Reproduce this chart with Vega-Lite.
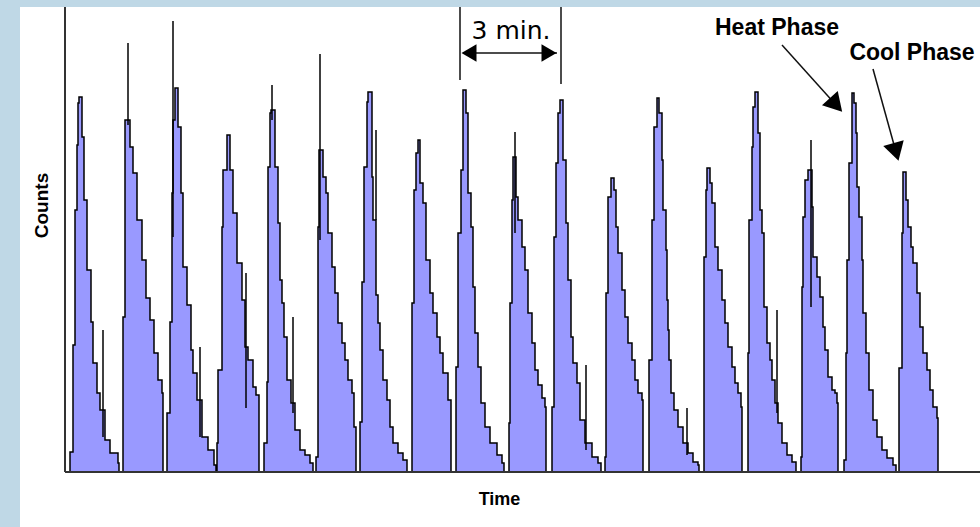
{
  "$schema": "https://vega.github.io/schema/vega-lite/v6.json",
  "width": 960,
  "height": 520,
  "autosize": {"type": "none"},
  "padding": {"left": 20, "top": 7, "right": 0, "bottom": 0},
  "background": "#bfd8e6",
  "config": {"view": {"stroke": null, "fill": "white"}},
  "datasets": {
    "profile": [
      {"t":0,"c":0},
      {"t":5,"c":20},{"t":8,"c":127},{"t":10,"c":262},{"t":12,"c":327},{"t":13,"c":369},{"t":14,"c":375},{"t":17,"c":335},{"t":19,"c":272},{"t":22,"c":202},{"t":26,"c":150},{"t":28,"c":109},{"t":32,"c":79},{"t":35,"c":62},{"t":40,"c":32},{"t":45,"c":19},{"t":53,"c":9},{"t":54,"c":0},
      {"t":58,"c":155},{"t":60,"c":352},{"t":65,"c":325},{"t":68,"c":299},{"t":72,"c":252},{"t":77,"c":212},{"t":81,"c":174},{"t":85,"c":152},{"t":89,"c":119},{"t":93,"c":92},{"t":97,"c":79},{"t":98,"c":0},
      {"t":102,"c":59},{"t":105,"c":150},{"t":107,"c":279},{"t":108,"c":352},{"t":110,"c":384},{"t":113,"c":345},{"t":116,"c":279},{"t":118,"c":205},{"t":122,"c":167},{"t":126,"c":122},{"t":128,"c":99},{"t":132,"c":72},{"t":137,"c":35},{"t":143,"c":22},{"t":149,"c":7},{"t":151,"c":0},
      {"t":152,"c":29},{"t":153,"c":102},{"t":157,"c":245},{"t":158,"c":302},{"t":162,"c":337},{"t":165,"c":302},{"t":168,"c":259},{"t":172,"c":209},{"t":177,"c":172},{"t":180,"c":125},{"t":183,"c":112},{"t":188,"c":85},{"t":191,"c":77},{"t":194,"c":0},
      {"t":199,"c":29},{"t":202,"c":90},{"t":203,"c":305},{"t":205,"c":359},{"t":206,"c":362},{"t":210,"c":305},{"t":213,"c":249},{"t":215,"c":192},{"t":217,"c":169},{"t":219,"c":135},{"t":222,"c":92},{"t":226,"c":69},{"t":230,"c":42},{"t":235,"c":22},{"t":240,"c":17},{"t":245,"c":9},{"t":248,"c":0},
      {"t":251,"c":15},{"t":253,"c":245},{"t":254,"c":322},{"t":258,"c":295},{"t":261,"c":279},{"t":263,"c":239},{"t":267,"c":205},{"t":270,"c":179},{"t":273,"c":149},{"t":277,"c":129},{"t":280,"c":112},{"t":283,"c":92},{"t":287,"c":79},{"t":289,"c":45},{"t":291,"c":0},
      {"t":295,"c":50},{"t":297,"c":190},{"t":299,"c":305},{"t":302,"c":370},{"t":303,"c":380},{"t":307,"c":295},{"t":308,"c":252},{"t":311,"c":177},{"t":313,"c":149},{"t":315,"c":122},{"t":318,"c":92},{"t":322,"c":72},{"t":325,"c":45},{"t":328,"c":29},{"t":333,"c":19},{"t":338,"c":12},{"t":342,"c":0},
      {"t":347,"c":169},{"t":349,"c":282},{"t":351,"c":319},{"t":353,"c":332},{"t":355,"c":289},{"t":358,"c":269},{"t":361,"c":212},{"t":365,"c":179},{"t":368,"c":159},{"t":372,"c":135},{"t":375,"c":119},{"t":378,"c":99},{"t":383,"c":72},{"t":386,"c":0},
      {"t":391,"c":105},{"t":393,"c":239},{"t":396,"c":302},{"t":398,"c":382},{"t":401,"c":359},{"t":403,"c":279},{"t":406,"c":245},{"t":408,"c":185},{"t":410,"c":139},{"t":413,"c":105},{"t":416,"c":69},{"t":420,"c":45},{"t":425,"c":29},{"t":432,"c":17},{"t":437,"c":9},{"t":439,"c":0},
      {"t":444,"c":49},{"t":445,"c":169},{"t":447,"c":272},{"t":448,"c":315},{"t":451,"c":275},{"t":453,"c":252},{"t":457,"c":225},{"t":460,"c":202},{"t":463,"c":159},{"t":467,"c":129},{"t":470,"c":102},{"t":473,"c":87},{"t":477,"c":74},{"t":480,"c":65},{"t":481,"c":0},
      {"t":487,"c":65},{"t":489,"c":235},{"t":491,"c":309},{"t":493,"c":359},{"t":495,"c":372},{"t":498,"c":312},{"t":501,"c":249},{"t":503,"c":192},{"t":506,"c":135},{"t":508,"c":109},{"t":512,"c":89},{"t":515,"c":52},{"t":520,"c":29},{"t":527,"c":15},{"t":533,"c":9},{"t":536,"c":0},
      {"t":540,"c":15},{"t":541,"c":179},{"t":543,"c":275},{"t":546,"c":294},{"t":549,"c":282},{"t":551,"c":245},{"t":553,"c":219},{"t":557,"c":182},{"t":560,"c":155},{"t":563,"c":129},{"t":567,"c":112},{"t":570,"c":92},{"t":573,"c":79},{"t":577,"c":72},{"t":578,"c":0},
      {"t":584,"c":112},{"t":587,"c":252},{"t":589,"c":345},{"t":592,"c":374},{"t":594,"c":359},{"t":597,"c":312},{"t":598,"c":262},{"t":601,"c":222},{"t":602,"c":172},{"t":603,"c":142},{"t":604,"c":112},{"t":606,"c":79},{"t":609,"c":62},{"t":613,"c":45},{"t":618,"c":29},{"t":623,"c":19},{"t":628,"c":10},{"t":633,"c":7},{"t":634,"c":0},
      {"t":639,"c":215},{"t":641,"c":282},{"t":642,"c":304},{"t":645,"c":289},{"t":647,"c":269},{"t":650,"c":225},{"t":653,"c":202},{"t":657,"c":172},{"t":660,"c":149},{"t":663,"c":125},{"t":667,"c":105},{"t":670,"c":89},{"t":673,"c":79},{"t":676,"c":65},{"t":677,"c":0},
      {"t":683,"c":119},{"t":684,"c":252},{"t":687,"c":325},{"t":688,"c":365},{"t":690,"c":380},{"t":693,"c":339},{"t":695,"c":262},{"t":697,"c":239},{"t":699,"c":165},{"t":702,"c":129},{"t":705,"c":112},{"t":707,"c":92},{"t":710,"c":69},{"t":713,"c":49},{"t":717,"c":29},{"t":722,"c":17},{"t":727,"c":10},{"t":731,"c":0},
      {"t":736,"c":15},{"t":737,"c":185},{"t":738,"c":255},{"t":740,"c":292},{"t":743,"c":302},{"t":747,"c":265},{"t":748,"c":215},{"t":752,"c":195},{"t":755,"c":175},{"t":758,"c":145},{"t":760,"c":122},{"t":763,"c":95},{"t":767,"c":82},{"t":770,"c":79},{"t":772,"c":69},{"t":773,"c":0},
      {"t":779,"c":12},{"t":781,"c":119},{"t":782,"c":212},{"t":784,"c":309},{"t":787,"c":379},{"t":789,"c":369},{"t":791,"c":339},{"t":792,"c":285},{"t":794,"c":255},{"t":797,"c":212},{"t":798,"c":159},{"t":801,"c":119},{"t":804,"c":82},{"t":808,"c":52},{"t":812,"c":35},{"t":817,"c":22},{"t":822,"c":14},{"t":828,"c":7},{"t":831,"c":0},
      {"t":834,"c":104},{"t":837,"c":239},{"t":838,"c":300},{"t":841,"c":272},{"t":843,"c":245},{"t":846,"c":225},{"t":848,"c":209},{"t":852,"c":179},{"t":855,"c":145},{"t":858,"c":119},{"t":862,"c":102},{"t":865,"c":82},{"t":868,"c":65},{"t":872,"c":54},{"t":873,"c":0},
      {"t":915,"c":0}
    ],
    "spikes": [
      {"t":38,"c":35,"c2":142},
      {"t":63,"c":347,"c2":429},
      {"t":108,"c":235,"c2":451},
      {"t":135,"c":35,"c2":125},
      {"t":181,"c":64,"c2":199},
      {"t":207,"c":352,"c2":387},
      {"t":228,"c":59,"c2":155},
      {"t":255,"c":232,"c2":418},
      {"t":311,"c":252,"c2":342},
      {"t":450,"c":239,"c2":340},
      {"t":521,"c":22,"c2":107},
      {"t":622,"c":17,"c2":64},
      {"t":712,"c":59,"c2":162},
      {"t":746,"c":165,"c2":332}
    ],
    "axes": [
      {"t":0,"c":0,"t2":915,"c2":0},
      {"t":0,"c":0,"t2":0,"c2":465}
    ],
    "guides": [
      {"t":395,"c":465,"t2":395,"c2":392},
      {"t":496,"c":465,"t2":496,"c2":388},
      {"t":398,"c":419,"t2":492,"c2":419},
      {"t":717,"c":427,"t2":771,"c2":367},
      {"t":808,"c":403,"t2":831,"c2":320}
    ],
    "heads": [
      {"t":404,"c":419,"id":"left"},
      {"t":484,"c":419,"id":"right"},
      {"t":771,"c":367,"id":"heat"},
      {"t":831,"c":320,"id":"cool"}
    ],
    "labels": [
      {"t":446,"c":433,"text":"3 min.","id":"min"},
      {"t":712,"c":437,"text":"Heat Phase","id":"heat"},
      {"t":847,"c":412,"text":"Cool Phase","id":"cool"}
    ]
  },
  "encoding": {
    "x": {
      "field": "t", "type": "quantitative",
      "scale": {"domain": [-45, 915], "nice": false, "zero": false},
      "axis": {"title": "Time", "domain": false, "ticks": false, "labels": false, "grid": false,
               "titleX": 479, "titleY": -28, "titleBaseline": "middle", "titleAlign": "center",
               "titleFont": "Liberation Sans", "titleFontSize": 18, "titleFontWeight": "bold", "titleColor": "#000"}
    },
    "y": {
      "field": "c", "type": "quantitative",
      "scale": {"domain": [-55, 465], "nice": false, "zero": false},
      "axis": {"title": "Counts", "domain": false, "ticks": false, "labels": false, "grid": false,
               "titleX": 21, "titleY": 198, "titleAngle": -90, "titleBaseline": "middle", "titleAlign": "center",
               "titleFont": "Liberation Sans", "titleFontSize": 19, "titleFontWeight": "bold", "titleColor": "#000"}
    }
  },
  "layer": [
    {
      "data": {"name": "profile"},
      "mark": {"type": "area", "interpolate": "step-after", "color": "#9999ff", "opacity": 1},
      "encoding": {"y2": {"datum": 0}}
    },
    {
      "data": {"name": "profile"},
      "mark": {"type": "line", "interpolate": "step-after", "color": "#000000", "strokeWidth": 1.5},
      "encoding": {}
    },
    {
      "data": {"name": "spikes"},
      "mark": {"type": "rule", "color": "#000000", "strokeWidth": 1.5},
      "encoding": {"y2": {"field": "c2"}}
    },
    {
      "data": {"name": "axes"},
      "mark": {"type": "rule", "color": "#333333", "strokeWidth": 2},
      "encoding": {"x2": {"field": "t2"}, "y2": {"field": "c2"}}
    },
    {
      "data": {"name": "guides"},
      "mark": {"type": "rule", "color": "#111111", "strokeWidth": 1.5},
      "encoding": {"x2": {"field": "t2"}, "y2": {"field": "c2"}}
    },
    {
      "data": {"name": "heads"},
      "transform": [{"filter": "datum.id === 'left'"}],
      "mark": {"type": "point", "shape": "triangle-left", "size": 300, "filled": true, "color": "#000000", "opacity": 1}
    },
    {
      "data": {"name": "heads"},
      "transform": [{"filter": "datum.id === 'right'"}],
      "mark": {"type": "point", "shape": "triangle-right", "size": 300, "filled": true, "color": "#000000", "opacity": 1}
    },
    {
      "data": {"name": "heads"},
      "transform": [{"filter": "datum.id === 'heat'"}],
      "mark": {"type": "point", "shape": "triangle-down", "size": 450, "angle": -42, "filled": true, "color": "#000000", "opacity": 1}
    },
    {
      "data": {"name": "heads"},
      "transform": [{"filter": "datum.id === 'cool'"}],
      "mark": {"type": "point", "shape": "triangle-down", "size": 450, "angle": -16, "filled": true, "color": "#000000", "opacity": 1}
    },
    {
      "data": {"name": "labels"},
      "transform": [{"filter": "datum.id === 'min'"}],
      "mark": {"type": "text", "font": "DejaVu Sans", "fontSize": 25, "align": "center", "baseline": "alphabetic", "color": "#000000"},
      "encoding": {"text": {"field": "text"}}
    },
    {
      "data": {"name": "labels"},
      "transform": [{"filter": "datum.id !== 'min'"}],
      "mark": {"type": "text", "font": "Liberation Sans", "fontSize": 23, "fontWeight": "bold", "align": "center", "baseline": "alphabetic", "color": "#000000"},
      "encoding": {"text": {"field": "text"}}
    }
  ]
}
